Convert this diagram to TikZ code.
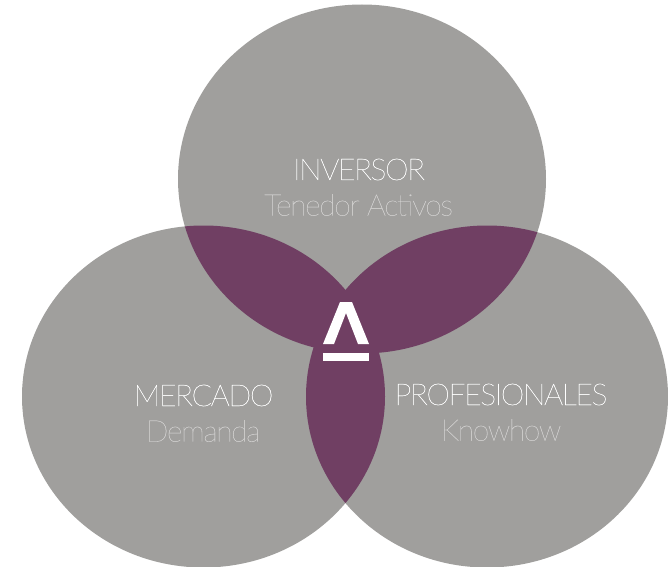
\documentclass[tikz,border=0pt]{standalone}
\usepackage{fontspec}
\newfontfamily\titlefont{Lato Thin}[LetterSpace=-4.5,FakeBold=0.6]
\newfontfamily\subfont{Lato Thin}[LetterSpace=-4.5,FakeBold=0.35]
\definecolor{cgray}{HTML}{A09F9D}
\definecolor{cpurple}{HTML}{703F63}
\definecolor{csub}{HTML}{D0CFCE}
\tikzset{
  px/.style={x=0.75pt,y=-0.75pt},
  titletext/.style={text=white,inner sep=0pt,anchor=center,font=\titlefont\fontsize{22.5}{26}\selectfont},
  subtext/.style={text=csub,inner sep=0pt,anchor=center,font=\subfont\fontsize{22.5}{26}\selectfont}
}
\newcommand{\TopE}{(362,179) ellipse [x radius=184,y radius=174.5]}
\newcommand{\LeftE}{(203.5,396.5) ellipse [x radius=181.5,y radius=171]}
\newcommand{\RightE}{(487,396.5) ellipse [x radius=181,y radius=171]}
\begin{document}
\begin{tikzpicture}[px]
\useasboundingbox (0,0) rectangle (668,567);
\fill[cgray] \TopE;
\fill[cgray] \LeftE;
\fill[cgray] \RightE;
\begin{scope}
\clip \TopE;
\fill[cpurple] \LeftE;
\fill[cpurple] \RightE;
\end{scope}
\begin{scope}
\clip \LeftE;
\fill[cpurple] \RightE;
\end{scope}
\fill[white] (340,302) -- (352,302) -- (369,344) -- (358,344) -- (346,313) -- (334,344) -- (323,344) -- cycle;
\fill[white] (323,353) rectangle (369,361);
\node[titletext] (inv) at (359,169.5) {INVERSOR};
\node[subtext] (ten) at (358.5,205) {Tenedor Activos};
\node[titletext] (mer) at (203.5,395.5) {MERCADO};
\node[subtext] (dem) at (203,431) {Demanda};
\node[titletext] (pro) at (501,394.5) {PROFESIONALES};
\node[subtext] (kno) at (501,430) {Knowhow};
\end{tikzpicture}
\end{document}
